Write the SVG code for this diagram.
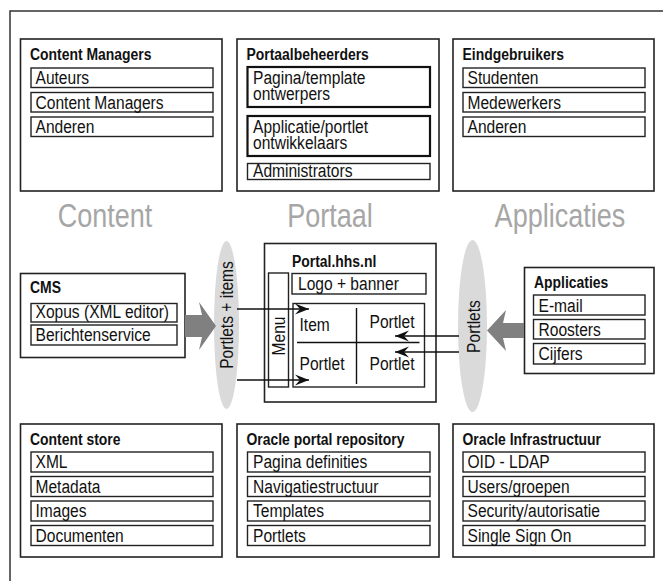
<svg xmlns="http://www.w3.org/2000/svg" width="663" height="581" viewBox="0 0 663 581">
  <style>
    text { font-family: "Liberation Sans", Arial, sans-serif; fill: #111; }
    .title { font-size: 17px; font-weight: bold; }
    .item { font-size: 19px; }
    .section { font-size: 33px; fill: #a6a6a6; text-anchor: middle; }
    .box { fill: #fff; stroke: #222; stroke-width: 1.6; }
    .cell { fill: #fff; stroke: #222; stroke-width: 1.4; }
    .cell2 { fill: #fff; stroke: #111; stroke-width: 2.2; }
    .frame { fill: none; stroke: #333; stroke-width: 1.5; }
    .line { fill: none; stroke: #111; stroke-width: 1.4; }
    .lens { fill: #dadada; }
    .fat { fill: #808080; }
  </style>
  <defs>
    <marker id="head" viewBox="-14 -6 15 12" refX="0" refY="0" markerWidth="15" markerHeight="12" markerUnits="userSpaceOnUse" orient="auto">
      <path d="M0,0 L-14,-5.5 L-9,0 L-14,5.5 Z" fill="#111"/>
    </marker>
  </defs>

  <rect width="663" height="581" fill="#fff"/>
  <!-- outer frame (left and top edges only) -->
  <path class="frame" d="M10,581 L10,11 L663,11"/>

  <!-- all labels use a narrowed sans: scale(.82 1) after positioning -->

  <!-- top row -->
  <g id="content-managers">
    <rect class="box" x="20.5" y="39" width="201.5" height="152"/>
    <text class="title" transform="translate(30 60) scale(.82 1)">Content Managers</text>
    <rect class="cell" x="31" y="68" width="182" height="19.5"/>
    <text class="item" transform="translate(35.5 84) scale(.82 1)">Auteurs</text>
    <rect class="cell" x="31" y="92.5" width="182" height="19.5"/>
    <text class="item" transform="translate(35.5 108.5) scale(.82 1)">Content Managers</text>
    <rect class="cell" x="31" y="117" width="182" height="19.5"/>
    <text class="item" transform="translate(35.5 133) scale(.82 1)">Anderen</text>
  </g>

  <g id="portaalbeheerders">
    <rect class="box" x="237" y="39" width="202" height="152"/>
    <text class="title" transform="translate(246.5 60) scale(.82 1)">Portaalbeheerders</text>
    <rect class="cell2" x="247.5" y="67" width="182.5" height="40"/>
    <text class="item" transform="translate(253 83.5) scale(.82 1)">Pagina/template</text>
    <text class="item" transform="translate(253 100) scale(.82 1)">ontwerpers</text>
    <rect class="cell2" x="247.5" y="116" width="182.5" height="40"/>
    <text class="item" transform="translate(253 132.5) scale(.82 1)">Applicatie/portlet</text>
    <text class="item" transform="translate(253 149) scale(.82 1)">ontwikkelaars</text>
    <rect class="cell" x="247.5" y="163.5" width="182.5" height="16"/>
    <text class="item" transform="translate(253 177) scale(.82 1)">Administrators</text>
  </g>

  <g id="eindgebruikers">
    <rect class="box" x="453" y="39" width="201" height="152"/>
    <text class="title" transform="translate(462.5 60) scale(.82 1)">Eindgebruikers</text>
    <rect class="cell" x="463" y="68" width="182" height="19.5"/>
    <text class="item" transform="translate(467.5 84) scale(.82 1)">Studenten</text>
    <rect class="cell" x="463" y="92.5" width="182" height="19.5"/>
    <text class="item" transform="translate(467.5 108.5) scale(.82 1)">Medewerkers</text>
    <rect class="cell" x="463" y="117" width="182" height="19.5"/>
    <text class="item" transform="translate(467.5 133) scale(.82 1)">Anderen</text>
  </g>

  <!-- section headings -->
  <g id="sections">
    <text class="section" transform="translate(105 227) scale(.82 1)">Content</text>
    <text class="section" transform="translate(330 227) scale(.82 1)">Portaal</text>
    <text class="section" transform="translate(560 227) scale(.82 1)">Applicaties</text>
  </g>

  <!-- middle row -->
  <g id="cms">
    <rect class="box" x="20.5" y="273.5" width="164.5" height="84"/>
    <text class="title" transform="translate(30 293) scale(.82 1)">CMS</text>
    <rect class="cell" x="31" y="303.5" width="146" height="18.5"/>
    <text class="item" transform="translate(35.5 318) scale(.82 1)">Xopus (XML editor)</text>
    <rect class="cell" x="31" y="325" width="146" height="20"/>
    <text class="item" transform="translate(35.5 341) scale(.82 1)">Berichtenservice</text>
  </g>

  <g id="portlets-items">
    <ellipse class="lens" cx="226.5" cy="325" rx="12.5" ry="84"/>
    <text class="item" text-anchor="middle" transform="translate(233 315) rotate(-90) scale(.82 1)">Portlets + items</text>
  </g>

  <g id="portal">
    <rect class="box" x="264.5" y="243.5" width="171.5" height="158.5"/>
    <text class="title" transform="translate(292 266.5) scale(.82 1)">Portal.hhs.nl</text>
    <rect class="cell" x="292" y="273.5" width="134" height="20.5"/>
    <text class="item" transform="translate(298 289.5) scale(.82 1)">Logo + banner</text>
    <rect class="cell" x="268.5" y="273" width="20" height="114"/>
    <text class="item" text-anchor="middle" transform="translate(285 336) rotate(-90) scale(.82 1)">Menu</text>
    <rect class="cell" x="293" y="303.5" width="131.5" height="83.5"/>
    <line class="line" x1="356.5" y1="308" x2="356.5" y2="384"/>
    <line class="line" x1="297" y1="342.5" x2="419.5" y2="342.5"/>
    <text class="item" transform="translate(299.5 331) scale(.82 1)">Item</text>
    <text class="item" transform="translate(369.5 328) scale(.82 1)">Portlet</text>
    <text class="item" transform="translate(299.5 370) scale(.82 1)">Portlet</text>
    <text class="item" transform="translate(369.5 370) scale(.82 1)">Portlet</text>
  </g>

  <g id="portlets">
    <ellipse class="lens" cx="472.5" cy="326" rx="14.5" ry="86"/>
    <text class="item" text-anchor="middle" transform="translate(480 326.5) rotate(-90) scale(.82 1)">Portlets</text>
  </g>

  <g id="applicaties">
    <rect class="box" x="524.5" y="267.5" width="129.5" height="106"/>
    <text class="title" transform="translate(534 288) scale(.82 1)">Applicaties</text>
    <rect class="cell" x="533.5" y="295" width="111.5" height="20"/>
    <text class="item" transform="translate(538.5 311.5) scale(.82 1)">E-mail</text>
    <rect class="cell" x="533.5" y="319.5" width="111.5" height="19.5"/>
    <text class="item" transform="translate(538.5 335.5) scale(.82 1)">Roosters</text>
    <rect class="cell" x="533.5" y="343.5" width="111.5" height="20.5"/>
    <text class="item" transform="translate(538.5 360) scale(.82 1)">Cijfers</text>
  </g>

  <!-- connectors -->
  <g id="connectors">
    <path class="fat" d="M185,315 L202,315 L199,302 L216,326 L199,350 L202,337 L185,337 Z"/>
    <path class="fat" d="M524,323 L503,323 L506,310 L487,330.5 L506,351 L503,338 L524,338 Z"/>
    <line class="line" x1="237" y1="309" x2="309" y2="309" marker-end="url(#head)"/>
    <line class="line" x1="237" y1="380" x2="309" y2="380" marker-end="url(#head)"/>
    <line class="line" x1="459" y1="336" x2="395" y2="336" marker-end="url(#head)"/>
    <line class="line" x1="459" y1="352" x2="395" y2="352" marker-end="url(#head)"/>
  </g>

  <!-- bottom row -->
  <g id="content-store">
    <rect class="box" x="20.5" y="424" width="201.5" height="133"/>
    <text class="title" transform="translate(30 444.5) scale(.82 1)">Content store</text>
    <rect class="cell" x="31" y="452" width="182" height="20"/>
    <text class="item" transform="translate(35.5 468) scale(.82 1)">XML</text>
    <rect class="cell" x="31" y="476.5" width="182" height="20"/>
    <text class="item" transform="translate(35.5 492.5) scale(.82 1)">Metadata</text>
    <rect class="cell" x="31" y="501" width="182" height="20"/>
    <text class="item" transform="translate(35.5 517) scale(.82 1)">Images</text>
    <rect class="cell" x="31" y="525.5" width="182" height="20"/>
    <text class="item" transform="translate(35.5 541.5) scale(.82 1)">Documenten</text>
  </g>

  <g id="oracle-portal-repository">
    <rect class="box" x="237" y="424" width="202" height="133"/>
    <text class="title" transform="translate(246.5 444.5) scale(.82 1)">Oracle portal repository</text>
    <rect class="cell" x="247.5" y="452" width="182.5" height="20"/>
    <text class="item" transform="translate(253 468) scale(.82 1)">Pagina definities</text>
    <rect class="cell" x="247.5" y="476.5" width="182.5" height="20"/>
    <text class="item" transform="translate(253 492.5) scale(.82 1)">Navigatiestructuur</text>
    <rect class="cell" x="247.5" y="501" width="182.5" height="20"/>
    <text class="item" transform="translate(253 517) scale(.82 1)">Templates</text>
    <rect class="cell" x="247.5" y="525.5" width="182.5" height="20"/>
    <text class="item" transform="translate(253 541.5) scale(.82 1)">Portlets</text>
  </g>

  <g id="oracle-infrastructuur">
    <rect class="box" x="453" y="424" width="201" height="133"/>
    <text class="title" transform="translate(462.5 444.5) scale(.82 1)">Oracle Infrastructuur</text>
    <rect class="cell" x="463" y="452" width="182" height="20"/>
    <text class="item" transform="translate(467.5 468) scale(.82 1)">OID - LDAP</text>
    <rect class="cell" x="463" y="476.5" width="182" height="20"/>
    <text class="item" transform="translate(467.5 492.5) scale(.82 1)">Users/groepen</text>
    <rect class="cell" x="463" y="501" width="182" height="20"/>
    <text class="item" transform="translate(467.5 517) scale(.82 1)">Security/autorisatie</text>
    <rect class="cell" x="463" y="525.5" width="182" height="20"/>
    <text class="item" transform="translate(467.5 541.5) scale(.82 1)">Single Sign On</text>
  </g>
</svg>
